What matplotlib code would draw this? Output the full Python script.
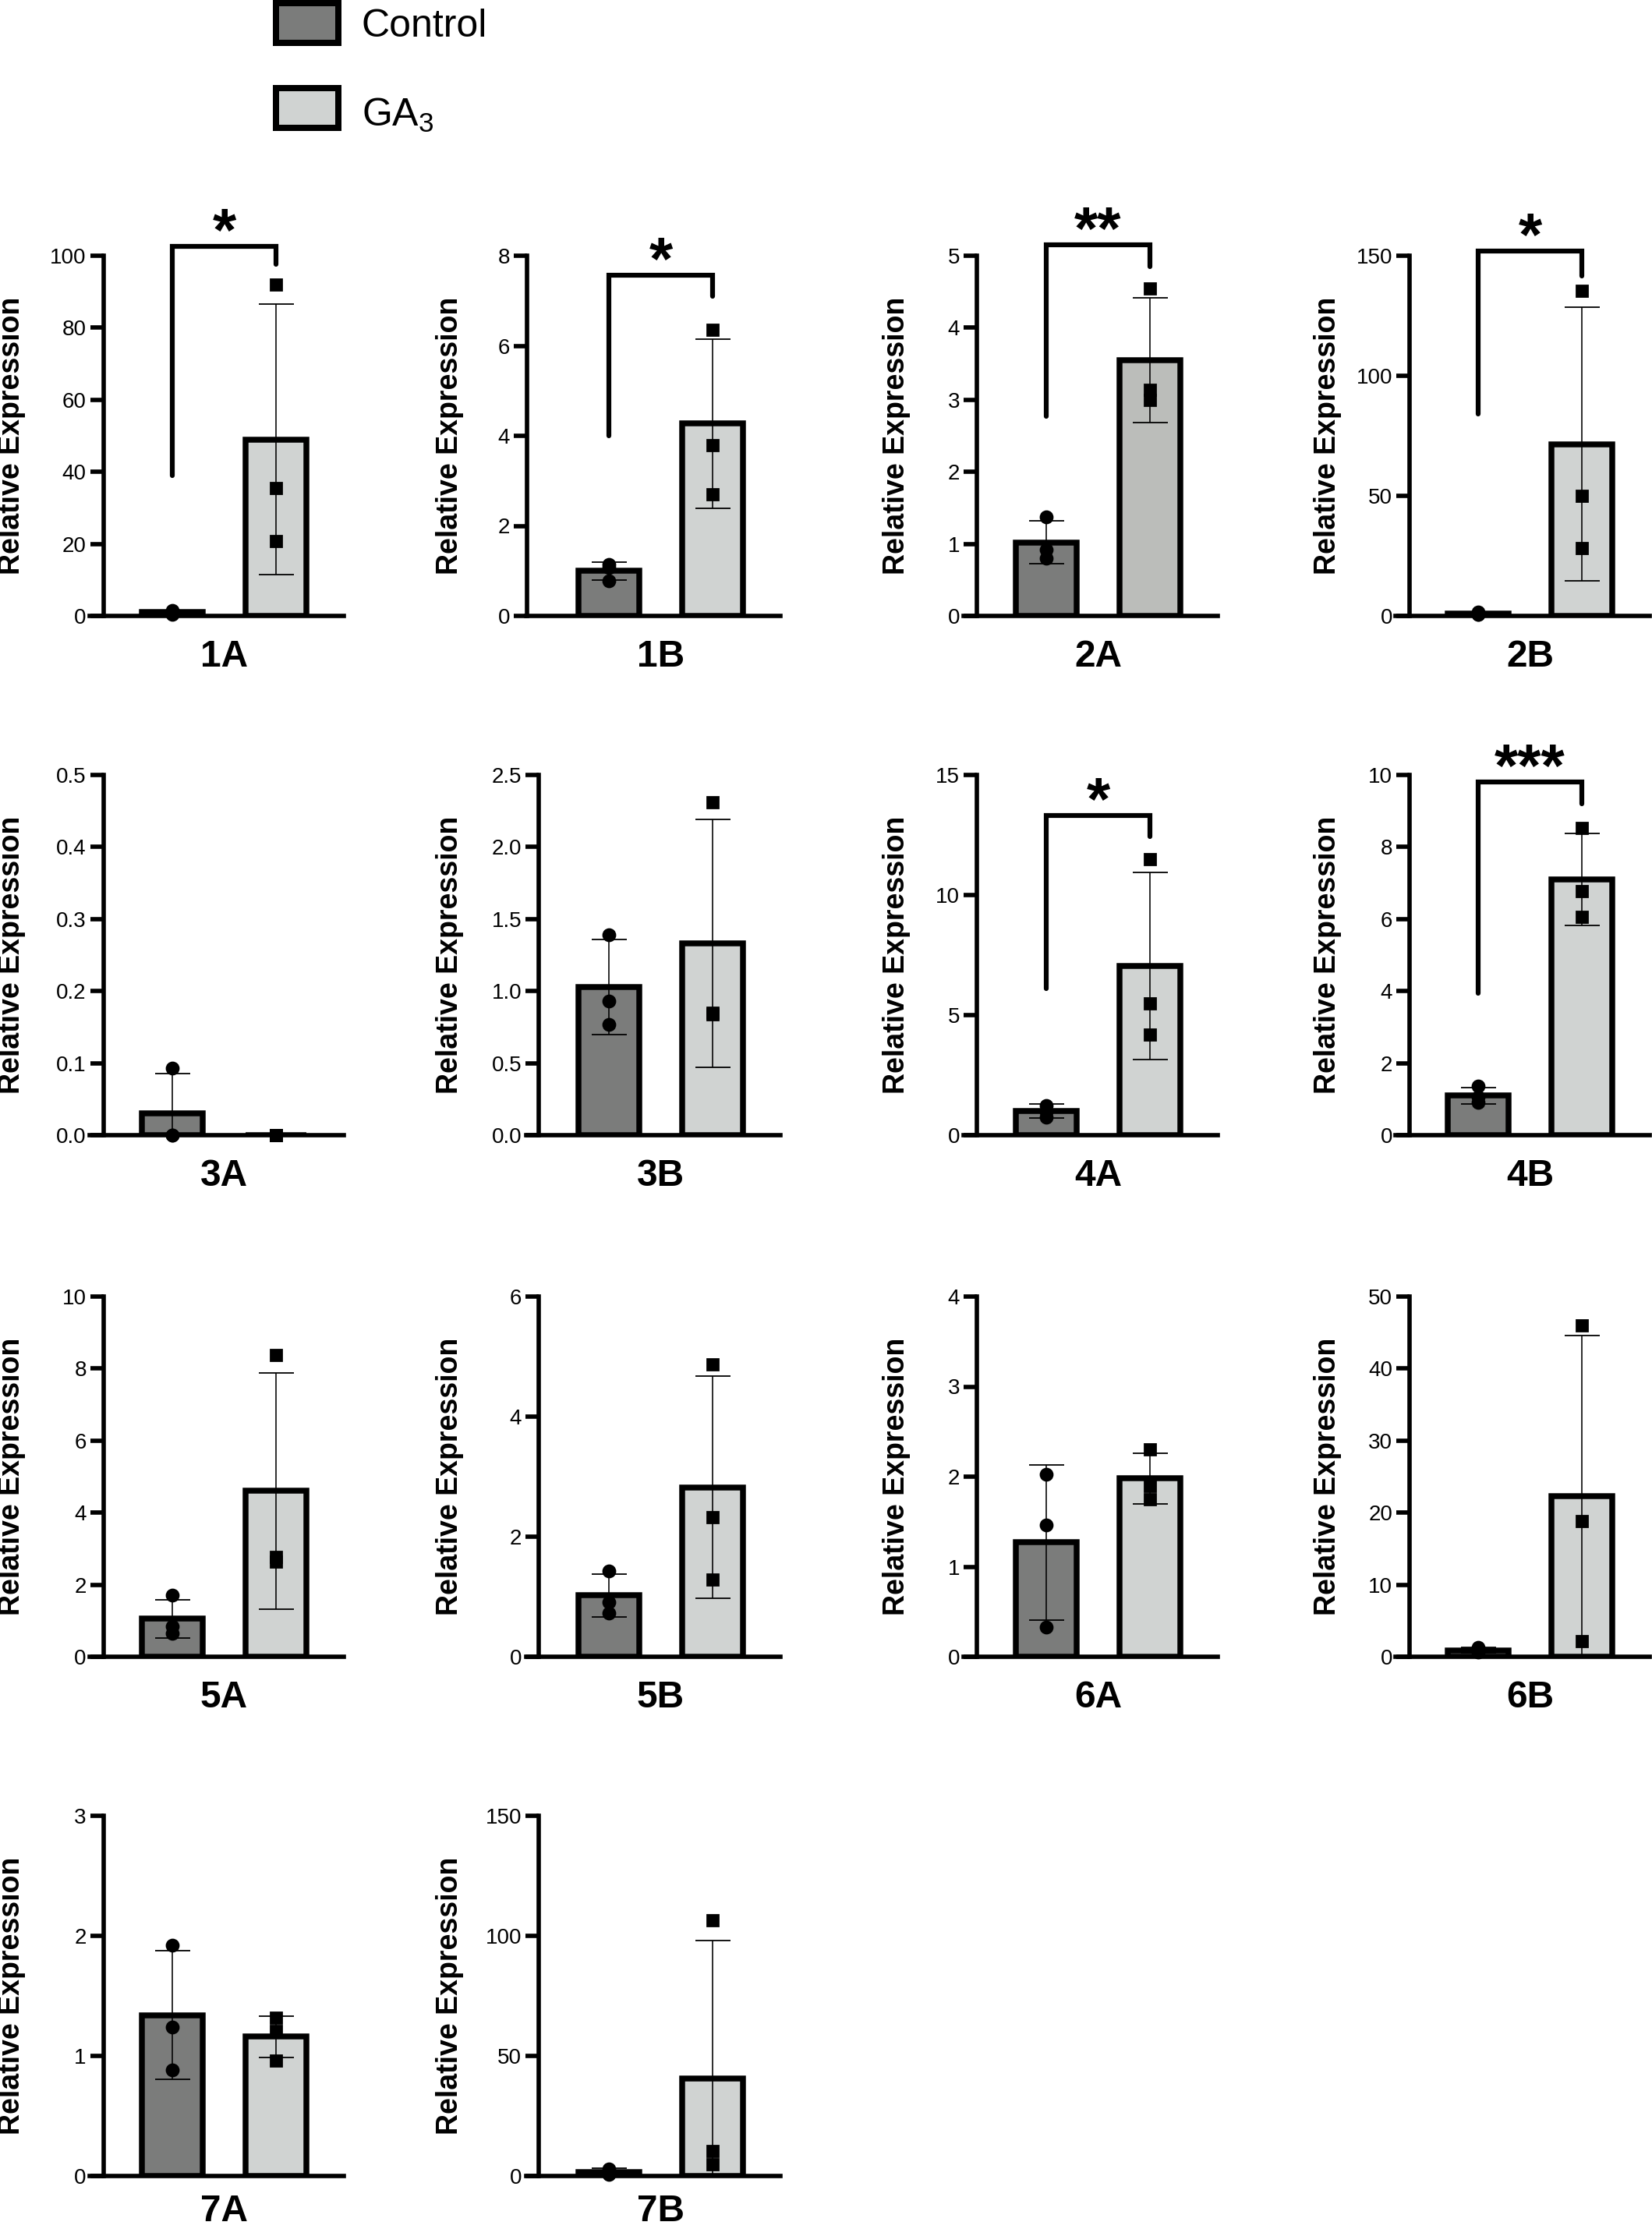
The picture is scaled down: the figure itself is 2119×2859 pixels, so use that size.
import numpy as np
import matplotlib
matplotlib.use("Agg")
import matplotlib.pyplot as plt
from matplotlib.patches import Rectangle

# ---- data ----
PANELS = ["1A", "1B", "2A", "2B", "3A", "3B", "4A", "4B",
          "5A", "5B", "6A", "6B", "7A", "7B"]

CTRL_MEAN = [1.0, 1.0, 1.02, 1.0, 0.03, 1.03, 1.0, 1.1, 1.06, 1.02, 1.27, 0.9, 1.34, 1.5]
CTRL_SD = [0.4, 0.2, 0.3, 0.6, 0.055, 0.33, 0.3, 0.23, 0.53, 0.36, 0.86, 0.35, 0.535, 1.7]
CTRL_PTS = [
    [1.5, 0.9, 0.5], [1.15, 1.07, 0.78], [1.37, 0.92, 0.8], [1.6, 0.8, 0.6],
    [0.093, 0.0, 0.0], [1.39, 0.93, 0.77], [1.25, 0.98, 0.75], [1.36, 1.05, 0.9],
    [1.7, 0.85, 0.65], [1.43, 0.91, 0.73], [2.03, 1.46, 0.33], [1.3, 0.8, 0.6],
    [1.92, 1.24, 0.88], [2.8, 1.2, 0.5],
]

GA_MEAN = [49.0, 4.27, 3.55, 71.5, 0.0, 1.33, 7.05, 7.1, 4.6, 2.82, 1.98, 22.3, 1.16, 40.5]
GA_SD = [37.5, 1.88, 0.87, 57.0, 0.0, 0.86, 3.9, 1.27, 3.28, 1.85, 0.28, 22.3, 0.17, 57.5]
GA_PTS = [
    [92.0, 35.5, 20.8], [6.35, 3.8, 2.7], [4.55, 3.14, 3.0], [135.5, 50.0, 28.3],
    [0.0, 0.0, 0.0], [2.31, 0.84, 0.85], [11.5, 5.5, 4.2], [8.52, 6.77, 6.06],
    [8.38, 2.78, 2.63], [4.87, 2.33, 1.28], [2.3, 1.9, 1.75], [46.0, 18.8, 2.2],
    [1.32, 1.21, 0.96], [106.5, 10.5, 4.9],
]

Y_TOP = [100, 8, 5, 150, 0.5, 2.5, 15, 10, 10, 6, 4, 50, 3, 150]
Y_STEP = [20, 2, 1, 50, 0.1, 0.5, 5, 2, 2, 2, 1, 10, 1, 50]

SIG_PANELS = ["1A", "1B", "2A", "2B", "4A", "4B"]
SIG_TOP = [102.5, 7.57, 5.15, 152.0, 13.3, 9.8]
SIG_LEFT_END = [39.0, 4.0, 2.77, 84.0, 6.1, 3.95]
SIG_RIGHT_END = [97.7, 7.1, 4.85, 141.5, 12.45, 9.2]
SIG_MARK = ["*", "*", "**", "*", "*", "***"]

GROUPS = ["Control", "GA$_3$"]

# ---- style / layout ----
W, H = 2119, 2859
DPI = 200
PT = 72.0 / DPI  # pixels -> points

CTRL_COLOR = "#7b7c7b"
GA_COLOR = "#d0d3d2"
GA_COLOR_OVERRIDE = {"2A": "#bbbdba"}

COL_BAR1_PX = [221, 781, 1342, 1896]
BAR_STEP_PX = 133
LEFT_EXT_PX = 106
RIGHT_EXT_PX = 87
SPINE_PX = [132.5, 691, 1253, 1808]
SPINE_OVERRIDE = {"1B": 676}
YLABEL_PX = [15, 577, 1150, 1703]
ROW_ZERO_PX = [790, 1456, 2125, 2791]
ROW_NAME_DROP_PX = [65, 65, 65, 58]
AXES_H_PX = 462

plt.rcParams.update({
    "font.family": ["Liberation Sans", "DejaVu Sans"],
    "mathtext.fontset": "custom",
    "mathtext.rm": "Liberation Sans",
    "mathtext.default": "regular",
    "axes.linewidth": 5.6 * PT,
})


def draw_panel(ax, i, row, col):
    name = PANELS[i]
    x = np.array([0, 1])
    ga_color = GA_COLOR_OVERRIDE.get(name, GA_COLOR)
    ax.bar(x, [CTRL_MEAN[i], GA_MEAN[i]], width=0.585,
           color=[CTRL_COLOR, ga_color], edgecolor="black",
           linewidth=7.5 * PT, zorder=2)
    for xi, m, s in zip(x, [CTRL_MEAN[i], GA_MEAN[i]], [CTRL_SD[i], GA_SD[i]]):
        if s > 0:
            ax.errorbar([xi], [m], yerr=[s], fmt="none", ecolor="black",
                        elinewidth=1.6 * PT, capsize=22.5 * PT,
                        capthick=1.8 * PT, zorder=3)
    ax.plot([0] * len(CTRL_PTS[i]), CTRL_PTS[i], "o", color="black",
            ms=15 * PT, zorder=4, clip_on=False)
    ax.plot([1] * len(GA_PTS[i]), GA_PTS[i], "s", color="black",
            ms=14 * PT, zorder=4, clip_on=False)

    top, step = Y_TOP[i], Y_STEP[i]
    ax.set_ylim(0, top)
    ax.set_xlim(-LEFT_EXT_PX / BAR_STEP_PX, 1 + RIGHT_EXT_PX / BAR_STEP_PX)
    ticks = np.arange(0, top + step / 2, step)
    labels = [f"{t:.1f}" if step < 1 else f"{t:g}" for t in ticks]
    ax.set_yticks(ticks)
    ax.set_yticklabels(labels, fontsize=13, fontweight="bold")
    ax.set_xticks([])
    ax.tick_params(axis="y", direction="out", length=17.5 * PT,
                   width=5.6 * PT, pad=1.5)

    spine_px = SPINE_OVERRIDE.get(name, SPINE_PX[col])
    spine_x = (spine_px - COL_BAR1_PX[col]) / BAR_STEP_PX
    ax.spines["left"].set_position(("data", spine_x))
    ax.spines["top"].set_visible(False)
    ax.spines["right"].set_visible(False)

    ax.set_ylabel("Relative Expression", fontsize=13.5, fontweight="bold",
                  va="center")
    axes_left = COL_BAR1_PX[col] - LEFT_EXT_PX
    axes_w = LEFT_EXT_PX + BAR_STEP_PX + RIGHT_EXT_PX
    ax.yaxis.set_label_coords((YLABEL_PX[col] - axes_left) / axes_w, 0.5)

    ax.annotate(name, xy=(0.5, 0), xycoords=("data", "axes fraction"),
                xytext=(0, -ROW_NAME_DROP_PX[row] * PT),
                textcoords="offset points", ha="center", va="baseline",
                fontsize=17.2, fontweight="bold", annotation_clip=False)

    if name in SIG_PANELS:
        k = SIG_PANELS.index(name)
        t = SIG_TOP[k]
        ax.plot([0, 0, 1, 1], [SIG_LEFT_END[k], t, t, SIG_RIGHT_END[k]],
                color="black", lw=6.2 * PT, solid_capstyle="round",
                solid_joinstyle="miter", clip_on=False, zorder=5)
        ax.annotate(SIG_MARK[k], xy=(0.5, t), xytext=(0, -6 * PT),
                    textcoords="offset points", ha="center", va="baseline",
                    fontsize=28, fontweight="bold", annotation_clip=False)


def main():
    fig = plt.figure(figsize=(W / DPI, H / DPI), dpi=DPI)
    fig.patch.set_facecolor("white")

    for i in range(len(PANELS)):
        row, col = divmod(i, 4)
        left = COL_BAR1_PX[col] - LEFT_EXT_PX
        width = LEFT_EXT_PX + BAR_STEP_PX + RIGHT_EXT_PX
        zero = ROW_ZERO_PX[row]
        ax = fig.add_axes([left / W, 1 - zero / H, width / W, AXES_H_PX / H])
        ax.patch.set_alpha(0)
        draw_panel(ax, i, row, col)

    # legend boxes
    for k, (label, color) in enumerate(zip(GROUPS, [CTRL_COLOR, GA_COLOR])):
        y_top = 4 + k * 109
        rect = Rectangle((354 / W, 1 - (y_top + 51) / H), 80 / W, 51 / H,
                         transform=fig.transFigure, facecolor=color,
                         edgecolor="black", linewidth=8 * PT)
        fig.patches.append(rect)
        fig.text(464 / W, 1 - (47 + k * 115) / H, label, fontsize=18,
                 va="baseline", ha="left")

    fig.savefig("out.png", dpi=DPI, facecolor="white")


if __name__ == "__main__":
    main()
